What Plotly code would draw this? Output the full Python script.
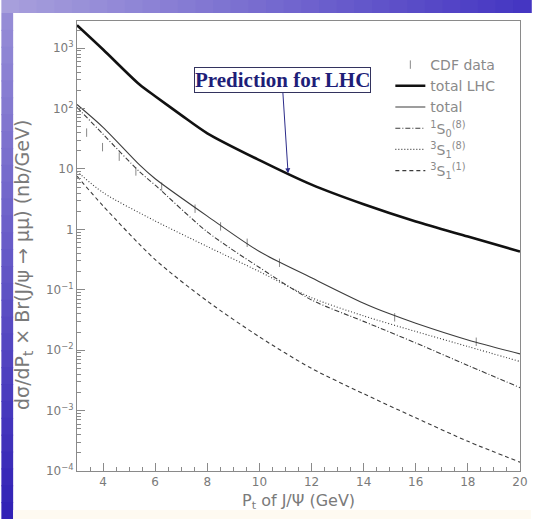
import plotly.graph_objects as go

# ---------------- data ----------------
lhc_x = [3, 4, 5.4, 6, 7, 8, 10, 12, 14, 16, 18, 20]
lhc_y = [2400, 950, 250, 160, 78, 39, 14, 5.5, 2.6, 1.35, 0.76, 0.43]

total_x = [3, 4, 5.4, 6, 8, 10, 12, 14, 15, 16, 18, 20]
total_y = [117, 49, 11.7, 6.9, 1.66, 0.43, 0.158, 0.060, 0.040, 0.028, 0.0148, 0.0087]

s1s08_x = [3, 4, 5.4, 6, 8, 10, 12, 14, 16, 18, 20]
s1s08_y = [105, 37.6, 9.0, 5.4, 0.91, 0.234, 0.068, 0.030, 0.0132, 0.0056, 0.0024]

s3s18_x = [3, 4, 6, 8, 10, 12, 14, 16, 18, 20]
s3s18_y = [9.1, 4.07, 1.38, 0.52, 0.20, 0.074, 0.037, 0.0204, 0.0115, 0.0065]

s3s11_x = [3, 4, 6, 8, 10, 12, 14, 16, 18, 20]
s3s11_y = [7.6, 2.45, 0.316, 0.065, 0.0166, 0.0050, 0.0019, 0.00076, 0.00031, 0.00014]

cdf_x = [3.37, 3.98, 4.62, 5.26, 6.25, 7.53, 8.51, 9.53, 10.77, 15.19, 18.32]
cdf_y = [40, 23, 16, 9.1, 5.1, 2.2, 1.12, 0.60, 0.28, 0.035, 0.0138]

y_tickvals = [1e-4, 1e-3, 1e-2, 1e-1, 1, 10, 100, 1000]
y_ticktext = ["10<sup>−4</sup>", "10<sup>−3</sup>", "10<sup>−2</sup>", "10<sup>−1</sup>",
              "1", "10", "10<sup>2</sup>", "10<sup>3</sup>"]
x_tickvals = [4, 6, 8, 10, 12, 14, 16, 18, 20]

# ---------------- figure ----------------
W, H = 539, 519
L, R, T, B = 77, 11, 21, 48
pw, ph = W - L - R, H - T - B

def px_x(px):
    return (px - L) / pw

def px_y(py):
    return (H - B - py) / ph

comp_col = "#3c3c3c"
fig = go.Figure()
fig.add_trace(go.Scatter(x=cdf_x, y=cdf_y, mode="markers", name="CDF data",
                         marker=dict(symbol="line-ns", size=6, color="#888",
                                     line=dict(width=1, color="#888"))))
fig.add_trace(go.Scatter(x=lhc_x, y=lhc_y, mode="lines", name="total LHC",
                         line=dict(color="#111", width=2.6, shape="spline", smoothing=0.8)))
fig.add_trace(go.Scatter(x=total_x, y=total_y, mode="lines", name="total",
                         line=dict(color=comp_col, width=1.1, shape="spline", smoothing=0.8)))
fig.add_trace(go.Scatter(x=s1s08_x, y=s1s08_y, mode="lines",
                         name="<sup>1</sup>S<sub>0</sub><sup>(8)</sup>",
                         line=dict(color=comp_col, width=1.1, dash="5px,2px,1px,2px",
                                   shape="spline", smoothing=0.8)))
fig.add_trace(go.Scatter(x=s3s18_x, y=s3s18_y, mode="lines",
                         name="<sup>3</sup>S<sub>1</sub><sup>(8)</sup>",
                         line=dict(color=comp_col, width=1.1, dash="1px,2px",
                                   shape="spline", smoothing=0.8)))
fig.add_trace(go.Scatter(x=s3s11_x, y=s3s11_y, mode="lines",
                         name="<sup>3</sup>S<sub>1</sub><sup>(1)</sup>",
                         line=dict(color=comp_col, width=1.1, dash="4px,3px",
                                   shape="spline", smoothing=0.8)))

axis_col = "#8a8a8a"
txt_col = "#7a7a7a"

fig.update_xaxes(range=[3, 20], tickvals=x_tickvals, ticks="inside", ticklen=8,
                 tickcolor=axis_col, showline=True, linecolor=axis_col, mirror=True,
                 showgrid=False, zeroline=False,
                 minor=dict(ticks="inside", ticklen=4, dtick=0.5, tick0=3, tickcolor=axis_col),
                 tickfont=dict(family="DejaVu Sans", size=12, color=txt_col))
minor_y = [m * 10 ** e for e in range(-4, 4) for m in range(2, 10)]
fig.update_yaxes(type="log", range=[-4, 3.45], tickvals=y_tickvals, ticktext=y_ticktext,
                 ticks="inside", ticklen=8, tickcolor=axis_col, showline=True,
                 linecolor=axis_col, mirror=True, showgrid=False, zeroline=False,
                 minor=dict(ticks="inside", ticklen=4, tickvals=minor_y, tickcolor=axis_col),
                 tickfont=dict(family="DejaVu Sans", size=12, color=txt_col))

# background decoration: purple/blue gradient strips (left and top)
def lerp(c1, c2, t):
    a = [int(c1[i:i + 2], 16) for i in (1, 3, 5)]
    b = [int(c2[i:i + 2], 16) for i in (1, 3, 5)]
    return "rgb(%d,%d,%d)" % tuple(round(a[k] + (b[k] - a[k]) * t) for k in range(3))

shapes = []
n = 30
for i in range(n):
    x0, x1 = W * i / n, W * (i + 1) / n
    shapes.append(dict(type="rect", xref="paper", yref="paper", layer="below",
                       x0=px_x(x0), x1=px_x(x1 + 1), y0=px_y(13), y1=px_y(0),
                       line=dict(width=0), fillcolor=lerp("#a79fdc", "#4536c2", i / (n - 1))))
for i in range(n):
    y0, y1 = 13 + (H - 13) * i / n, 13 + (H - 13) * (i + 1) / n
    shapes.append(dict(type="rect", xref="paper", yref="paper", layer="below",
                       x0=px_x(0), x1=px_x(12), y0=px_y(y1 + 1), y1=px_y(y0),
                       line=dict(width=0), fillcolor=lerp("#958cd6", "#3222b6", i / (n - 1))))
shapes.append(dict(type="rect", xref="paper", yref="paper", layer="below",
                   x0=px_x(12), x1=px_x(W), y0=px_y(H), y1=px_y(510),
                   line=dict(width=0), fillcolor="#fefaf1"))

annotations = [
    dict(text="<b>Prediction for LHC</b>", x=11.1, y=0.93, xref="x", yref="y",
         ax=-6, ay=-93, showarrow=True, arrowhead=2, arrowsize=1, arrowwidth=1,
         arrowcolor="#2c2c8a", standoff=0,
         font=dict(family="Liberation Serif", size=21, color="#1e1e78"),
         bgcolor="white", bordercolor="#33335e", borderwidth=1, borderpad=0),
    dict(text="dσ/dP<sub>t</sub> × Br(J/ψ → μμ) (nb/GeV)", textangle=-90,
         xref="paper", yref="paper", x=px_x(22), y=px_y(265), showarrow=False,
         xanchor="center", yanchor="middle",
         font=dict(family="DejaVu Sans", size=19, color=txt_col)),
    dict(text="P<sub>t</sub> of J/Ψ (GeV)", xref="paper", yref="paper",
         x=0.5, y=px_y(501), showarrow=False, xanchor="center", yanchor="middle",
         font=dict(family="DejaVu Sans", size=16, color=txt_col)),
]

fig.update_layout(
    width=W, height=H, autosize=False,
    margin=dict(l=L, r=R, t=T, b=B),
    paper_bgcolor="white", plot_bgcolor="white",
    shapes=shapes, annotations=annotations,
    legend=dict(x=px_x(396), y=px_y(49), xanchor="left", yanchor="top",
                bgcolor="rgba(0,0,0,0)", borderwidth=0, tracegroupgap=0,
                font=dict(family="DejaVu Sans", size=14, color="#8a8a8a")),
)

fig.write_html("out.html", config={"displayModeBar": False},
               post_script="document.body.style.margin='0px';document.body.style.overflow='hidden';")
